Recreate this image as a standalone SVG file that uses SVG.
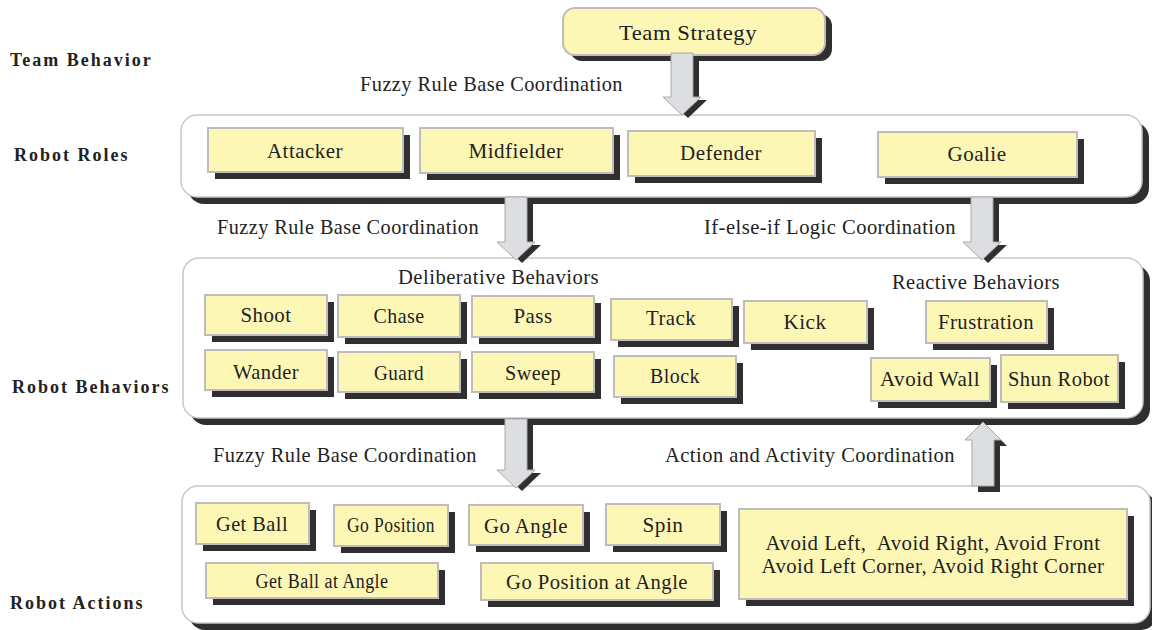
<svg xmlns="http://www.w3.org/2000/svg" width="1152" height="630" viewBox="0 0 1152 630">
<style>
.cont{fill:#fff;stroke:#c8c8c8;stroke-width:1.5}
.sh{fill:#2f2f2f}
.box{fill:#fdf7b6;stroke:#bdbdbd;stroke-width:2}
.t{font-family:"Liberation Serif","Times New Roman",serif;font-size:22px;fill:#222;letter-spacing:0.5px;text-anchor:middle}
.s{font-size:20px}
.c{font-family:"Liberation Serif","Times New Roman",serif;font-size:22px;fill:#222;letter-spacing:0.5px}
.l{font-family:"Liberation Serif","Times New Roman",serif;font-size:18px;font-weight:bold;fill:#222;letter-spacing:2px}
.arr{fill:#dcdee2;stroke:#a8a8a8;stroke-width:1}
</style>
<rect width="1152" height="630" fill="#fff"/>

<g id="level-labels">
<text class="l" x="10" y="66">Team Behavior</text>
<text class="l" x="14" y="161">Robot Roles</text>
<text class="l" x="12" y="393">Robot Behaviors</text>
<text class="l" x="10" y="609">Robot Actions</text>
</g>

<g id="containers">
<g id="roles-container">
<rect class="sh" x="188" y="122" width="961" height="82" rx="16"/>
<rect class="cont" x="181" y="115" width="961" height="82" rx="16"/>
</g>
<g id="behaviors-container">
<rect class="sh" x="190" y="265" width="960" height="160" rx="16"/>
<rect class="cont" x="183" y="258" width="960" height="160" rx="16"/>
</g>
<g id="actions-container">
<rect class="sh" x="189" y="493" width="968" height="137" rx="16"/>
<rect class="cont" x="182" y="486" width="968" height="137" rx="16"/>
</g>
</g>

<g id="team-strategy">
<rect class="sh" x="570" y="14" width="262" height="47" rx="12"/>
<rect class="box" x="563" y="8" width="262" height="47" rx="12"/>
<text class="t" x="688" y="40" textLength="138" lengthAdjust="spacingAndGlyphs">Team Strategy</text>
</g>

<g id="attacker"><rect class="sh" x="215" y="135" width="195" height="44"/><rect class="box" x="208" y="128" width="195" height="44"/><text class="t" x="305" y="158" textLength="76" lengthAdjust="spacingAndGlyphs">Attacker</text></g>
<g id="midfielder"><rect class="sh" x="427" y="135" width="193" height="45"/><rect class="box" x="420" y="128" width="193" height="45"/><text class="t" x="516" y="158" textLength="95" lengthAdjust="spacingAndGlyphs">Midfielder</text></g>
<g id="defender"><rect class="sh" x="635" y="138" width="187" height="45"/><rect class="box" x="628" y="131" width="187" height="45"/><text class="t" x="721" y="160" textLength="82" lengthAdjust="spacingAndGlyphs">Defender</text></g>
<g id="goalie"><rect class="sh" x="885" y="139" width="199" height="45"/><rect class="box" x="878" y="132" width="199" height="45"/><text class="t" x="977" y="161" textLength="59" lengthAdjust="spacingAndGlyphs">Goalie</text></g>

<g id="edge-labels">
<text class="c" x="360" y="91" textLength="263" lengthAdjust="spacingAndGlyphs">Fuzzy Rule Base Coordination</text>
<text class="c" x="217" y="234" textLength="262" lengthAdjust="spacingAndGlyphs">Fuzzy Rule Base Coordination</text>
<text class="c" x="704" y="234" textLength="252" lengthAdjust="spacingAndGlyphs">If-else-if Logic Coordination</text>
<text class="c" x="213" y="462" textLength="264" lengthAdjust="spacingAndGlyphs">Fuzzy Rule Base Coordination</text>
<text class="c" x="665" y="462" textLength="290" lengthAdjust="spacingAndGlyphs">Action and Activity Coordination</text>
</g>
<g id="group-titles">
<text class="c" x="398" y="284" textLength="201" lengthAdjust="spacingAndGlyphs">Deliberative Behaviors</text>
<text class="c" x="892" y="289" textLength="168" lengthAdjust="spacingAndGlyphs">Reactive Behaviors</text>
</g>

<g id="shoot"><rect class="sh" x="212" y="302" width="122" height="40"/><rect class="box" x="205" y="295" width="122" height="40"/><text class="t" x="266" y="322" textLength="51" lengthAdjust="spacingAndGlyphs">Shoot</text></g>
<g id="chase"><rect class="sh" x="345" y="302" width="122" height="42"/><rect class="box" x="338" y="295" width="122" height="42"/><text class="t" x="399" y="323" textLength="51" lengthAdjust="spacingAndGlyphs">Chase</text></g>
<g id="pass"><rect class="sh" x="479" y="303" width="122" height="41"/><rect class="box" x="472" y="296" width="122" height="41"/><text class="t" x="533" y="323" textLength="39" lengthAdjust="spacingAndGlyphs">Pass</text></g>
<g id="track"><rect class="sh" x="618" y="306" width="121" height="41"/><rect class="box" x="611" y="299" width="121" height="41"/><text class="t" x="671" y="325" textLength="50" lengthAdjust="spacingAndGlyphs">Track</text></g>
<g id="kick"><rect class="sh" x="751" y="308" width="123" height="42"/><rect class="box" x="744" y="301" width="123" height="42"/><text class="t" x="805" y="329" textLength="43" lengthAdjust="spacingAndGlyphs">Kick</text></g>
<g id="frustration"><rect class="sh" x="933" y="308" width="121" height="42"/><rect class="box" x="926" y="301" width="121" height="42"/><text class="t" x="986" y="329" textLength="96" lengthAdjust="spacingAndGlyphs">Frustration</text></g>
<g id="wander"><rect class="sh" x="212" y="357" width="122" height="40"/><rect class="box" x="205" y="350" width="122" height="40"/><text class="t" x="266" y="379" textLength="66" lengthAdjust="spacingAndGlyphs">Wander</text></g>
<g id="guard"><rect class="sh" x="345" y="359" width="122" height="40"/><rect class="box" x="338" y="352" width="122" height="40"/><text class="t" x="399" y="380" textLength="50" lengthAdjust="spacingAndGlyphs">Guard</text></g>
<g id="sweep"><rect class="sh" x="479" y="359" width="122" height="40"/><rect class="box" x="472" y="352" width="122" height="40"/><text class="t" x="533" y="380" textLength="56" lengthAdjust="spacingAndGlyphs">Sweep</text></g>
<g id="block"><rect class="sh" x="621" y="363" width="122" height="41"/><rect class="box" x="614" y="356" width="122" height="41"/><text class="t" x="675" y="383" textLength="50" lengthAdjust="spacingAndGlyphs">Block</text></g>
<g id="avoid-wall"><rect class="sh" x="878" y="365" width="119" height="43"/><rect class="box" x="871" y="358" width="119" height="43"/><text class="t" x="930" y="386" textLength="100" lengthAdjust="spacingAndGlyphs">Avoid Wall</text></g>
<g id="shun-robot"><rect class="sh" x="1008" y="362" width="117" height="47"/><rect class="box" x="1001" y="355" width="117" height="47"/><text class="t" x="1059" y="386" textLength="102" lengthAdjust="spacingAndGlyphs">Shun Robot</text></g>

<g id="get-ball"><rect class="sh" x="203" y="510" width="113" height="41"/><rect class="box" x="196" y="503" width="113" height="41"/><text class="t" x="252" y="531" textLength="72" lengthAdjust="spacingAndGlyphs">Get Ball</text></g>
<g id="go-position"><rect class="sh" x="341" y="512" width="114" height="41"/><rect class="box" x="334" y="505" width="114" height="41"/><text class="t s" x="391" y="532" textLength="88" lengthAdjust="spacingAndGlyphs">Go Position</text></g>
<g id="go-angle"><rect class="sh" x="476" y="512" width="114" height="40"/><rect class="box" x="469" y="505" width="114" height="40"/><text class="t" x="526" y="533" textLength="84" lengthAdjust="spacingAndGlyphs">Go Angle</text></g>
<g id="spin"><rect class="sh" x="613" y="511" width="114" height="41"/><rect class="box" x="606" y="504" width="114" height="41"/><text class="t" x="663" y="532" textLength="41" lengthAdjust="spacingAndGlyphs">Spin</text></g>
<g id="get-ball-at-angle"><rect class="sh" x="213" y="570" width="232" height="35"/><rect class="box" x="206" y="563" width="232" height="35"/><text class="t s" x="322" y="588" textLength="133" lengthAdjust="spacingAndGlyphs">Get Ball at Angle</text></g>
<g id="go-position-at-angle"><rect class="sh" x="488" y="570" width="232" height="37"/><rect class="box" x="481" y="563" width="232" height="37"/><text class="t" x="597" y="589" textLength="182" lengthAdjust="spacingAndGlyphs">Go Position at Angle</text></g>
<g id="avoid-group"><rect class="sh" x="746" y="516" width="388" height="90"/><rect class="box" x="739" y="509" width="388" height="90"/>
<text class="t" x="933" y="550" textLength="335" lengthAdjust="spacingAndGlyphs" style="white-space:pre">Avoid Left,  Avoid Right, Avoid Front</text>
<text class="t" x="933" y="573" textLength="343" lengthAdjust="spacingAndGlyphs">Avoid Left Corner, Avoid Right Corner</text></g>

<g id="connectors">
<g id="a1"><path class="sh" d="M677,56 H699 V100 H707 L688,118 L669,100 H677 Z"/><path class="arr" d="M671,53 H693 V97 H701 L682,115 L663,97 H671 Z"/></g>
<g id="a2"><path class="sh" d="M511,200 H533 V245 H541 L522,263 L503,245 H511 Z"/><path class="arr" d="M505,197 H527 V242 H535 L516,260 L497,242 H505 Z"/></g>
<g id="a3"><path class="sh" d="M977,200 H999 V245 H1007 L988,263 L969,245 H977 Z"/><path class="arr" d="M971,197 H993 V242 H1001 L982,260 L963,242 H971 Z"/></g>
<g id="a4"><path class="sh" d="M511,422 H533 V473 H541 L522,491 L503,473 H511 Z"/><path class="arr" d="M505,419 H527 V470 H535 L516,488 L497,470 H505 Z"/></g>
<g id="a5"><path class="sh" d="M978,492 H1000 V446 H1007 L989,428 L971,446 H978 Z"/><path class="arr" d="M972,486 H994 V440 H1001 L983,422 L965,440 H972 Z"/></g>
</g>
</svg>
